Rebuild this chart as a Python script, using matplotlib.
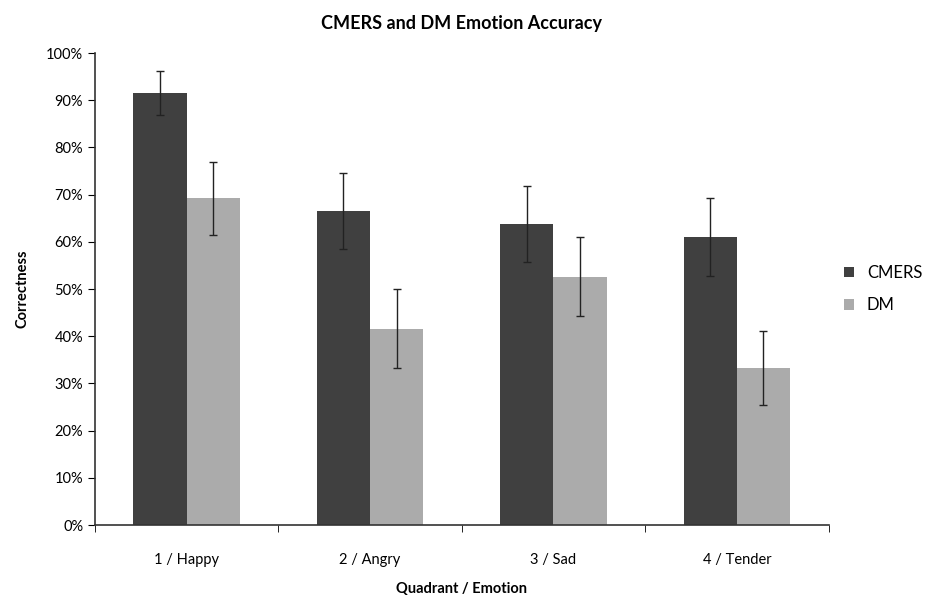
import matplotlib
matplotlib.use("Agg")
import matplotlib.pyplot as plt
import numpy as np
from matplotlib.ticker import PercentFormatter

plt.rcParams['font.family'] = ['Lato', 'DejaVu Sans']

# Data
categories = ["1 / Happy", "2 / Angry", "3 / Sad", "4 / Tender"]
cmers = [91.5, 66.5, 63.8, 61.0]
cmers_err = [4.7, 8.0, 8.1, 8.2]
dm = [69.2, 41.6, 52.6, 33.3]
dm_err = [7.8, 8.4, 8.4, 7.9]

fig = plt.figure(figsize=(9.31, 5.97), dpi=100)
ax = fig.add_axes([0.102, 0.1206, 0.788, 0.7906])

x = np.arange(len(categories))
w = 0.29
ekw = dict(elinewidth=1, capthick=1, ecolor="#222222")
ax.bar(x - w/2, cmers, w, yerr=cmers_err, capsize=3, color="#404040",
       label="CMERS", error_kw=ekw)
ax.bar(x + w/2, dm, w, yerr=dm_err, capsize=3, color="#ababab",
       label="DM", error_kw=ekw)

ax.set_xlim(-0.5, len(categories) - 0.5)
ax.set_ylim(0, 100)
ax.set_yticks(np.arange(0, 101, 10))
ax.yaxis.set_major_formatter(PercentFormatter(decimals=0))
ax.set_xticks(x)
ax.set_xticklabels(categories)
ax.set_xticks(np.arange(len(categories) + 1) - 0.5, minor=True)
ax.tick_params(axis='x', which='major', length=0, pad=20, labelsize=10.5)
ax.tick_params(axis='x', which='minor', length=5, direction='out')
ax.tick_params(axis='y', length=5, direction='out', labelsize=10.5)

for s in ['top', 'right']:
    ax.spines[s].set_visible(False)
for s in ['left', 'bottom']:
    ax.spines[s].set_color("#333333")
    ax.spines[s].set_linewidth(1.2)

ax.set_title("CMERS and DM Emotion Accuracy", fontsize=13, fontweight='bold', pad=17)
ax.set_xlabel("Quadrant / Emotion", fontsize=10.5, fontweight='bold', labelpad=11)
ax.set_ylabel("Correctness", fontsize=10.5, fontweight='bold', labelpad=12)

ax.legend(loc='center left', bbox_to_anchor=(1.0, 0.5), frameon=False,
          fontsize=12, handlelength=0.6, handleheight=0.6, labelspacing=1.0)

fig.savefig("out.png", dpi=100)
